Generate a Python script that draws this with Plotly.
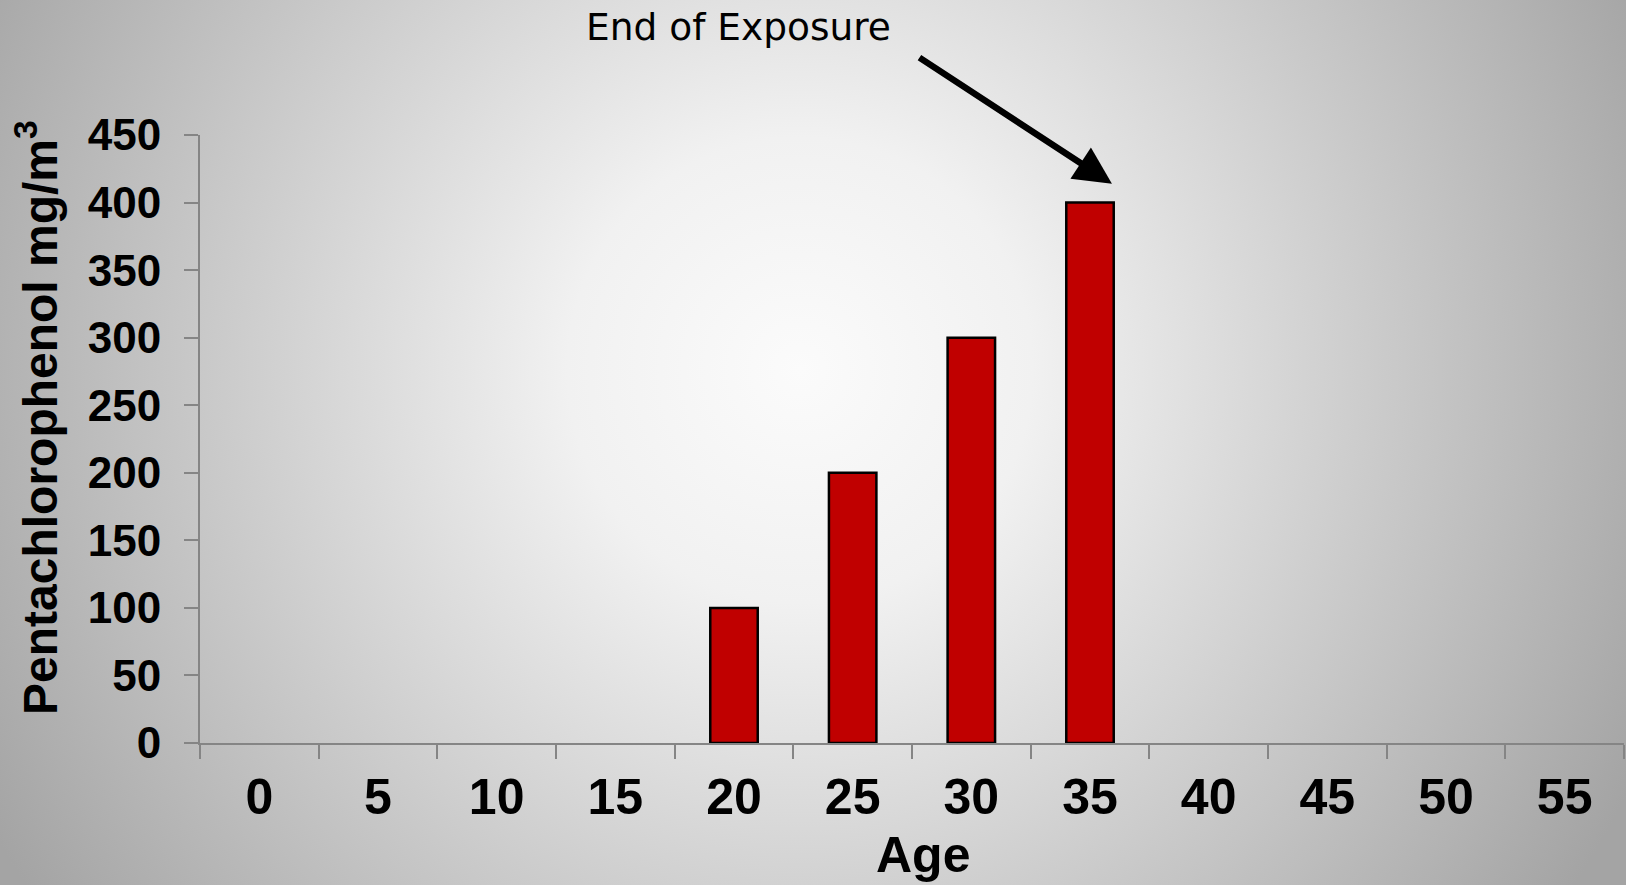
import base64
import plotly.graph_objects as go

# Age groups (years) and pentachlorophenol concentration (mg/m^3)
ages = ["0", "5", "10", "15", "20", "25", "30", "35", "40", "45", "50", "55"]
concentration = [None, None, None, None, 100, 200, 300, 400, None, None, None, None]
y_ticks = [0, 50, 100, 150, 200, 250, 300, 350, 400, 450]

W, H = 1626, 885
M_L, M_R, M_T, M_B = 200, 2, 135, 142

# Soft radial grey backdrop
svg = (
    f"<svg xmlns='http://www.w3.org/2000/svg' width='{W}' height='{H}' "
    f"viewBox='0 0 {W} {H}' preserveAspectRatio='none'>"
    "<defs><radialGradient id='g' gradientUnits='userSpaceOnUse' "
    "cx='800' cy='370' r='930'>"
    "<stop offset='0' stop-color='#fbfbfb'/>"
    "<stop offset='0.25' stop-color='#f1f1f1'/>"
    "<stop offset='1' stop-color='#a4a4a4'/>"
    "</radialGradient></defs>"
    f"<rect width='{W}' height='{H}' fill='url(#g)'/></svg>"
)
bg_src = "data:image/svg+xml;base64," + base64.b64encode(svg.encode()).decode()

pw = W - M_L - M_R
ph = H - M_T - M_B


def px_x(px):
    return (px - M_L) / pw


def px_y(py):
    return (H - M_B - py) / ph


fig = go.Figure(
    go.Bar(
        x=ages,
        y=concentration,
        marker=dict(color="#C00000", line=dict(color="#000000", width=2.5)),
        hoverinfo="skip",
    )
)

axis_grey = "#858585"
fig.update_layout(
    width=W,
    height=H,
    margin=dict(l=M_L, r=M_R, t=M_T, b=M_B, pad=0),
    paper_bgcolor="#b8b8b8",
    plot_bgcolor="rgba(0,0,0,0)",
    bargap=0.6,
    showlegend=False,
    images=[
        dict(
            source=bg_src,
            xref="paper",
            yref="paper",
            x=-M_L / pw,
            y=1 + M_T / ph,
            sizex=W / pw,
            sizey=H / ph,
            sizing="stretch",
            xanchor="left",
            yanchor="top",
            layer="below",
        )
    ],
    xaxis=dict(
        type="category",
        range=[-0.5, 11.5],
        showline=True,
        linecolor=axis_grey,
        linewidth=2,
        ticks="outside",
        tickson="boundaries",
        ticklen=14,
        tickwidth=1.5,
        tickcolor=axis_grey,
        showgrid=False,
        zeroline=False,
        ticklabelstandoff=9,
        tickfont=dict(family="Liberation Sans, Arial", size=50, color="#000000", weight="bold"),
    ),
    yaxis=dict(
        range=[0, 450],
        tickvals=y_ticks,
        showline=True,
        linecolor=axis_grey,
        linewidth=2,
        ticks="outside",
        ticklen=14,
        tickwidth=1.5,
        tickcolor=axis_grey,
        showgrid=False,
        zeroline=False,
        ticklabelstandoff=14,
        tickfont=dict(family="Liberation Sans, Arial", size=44, color="#000000", weight="bold"),
    ),
    annotations=[
        # axis titles
        dict(
            text="Age",
            xref="paper",
            yref="paper",
            x=px_x(923),
            y=px_y(855),
            xanchor="center",
            yanchor="middle",
            showarrow=False,
            font=dict(family="Liberation Sans, Arial", size=50, color="#000000", weight="bold"),
        ),
        dict(
            text="Pentachlorophenol mg/m<sup>3</sup>",
            xref="paper",
            yref="paper",
            x=px_x(37),
            y=px_y(418),
            xanchor="center",
            yanchor="middle",
            textangle=-90,
            showarrow=False,
            font=dict(family="Liberation Sans, Arial", size=48, color="#000000", weight="bold"),
        ),
        # callout
        dict(
            text="End of Exposure",
            xref="paper",
            yref="paper",
            x=px_x(738),
            y=px_y(27),
            xanchor="center",
            yanchor="middle",
            showarrow=False,
            font=dict(family="DejaVu Sans, Verdana", size=37.5, color="#000000"),
        ),
        dict(
            text="",
            xref="x",
            yref="y",
            x=7.185,
            y=414,
            axref="pixel",
            ayref="pixel",
            ax=-194,
            ay=-127,
            showarrow=True,
            arrowhead=2,
            arrowsize=1.15,
            arrowwidth=6.5,
            arrowcolor="#000000",
        ),
    ],
)

fig.write_html("out.html")
